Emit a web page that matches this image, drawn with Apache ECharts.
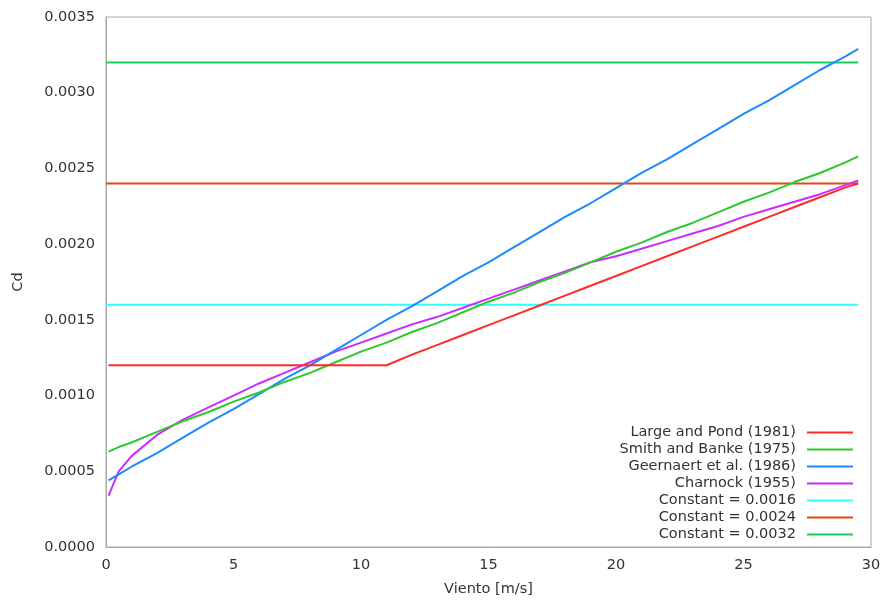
<!DOCTYPE html>
<html>
<head>
<meta charset="utf-8">
<script src="https://cdn.jsdelivr.net/npm/echarts@6/dist/echarts.min.js"></script>
<style>
html,body{margin:0;padding:0;background:#fff;}
#chart{width:885px;height:603px;}
</style>
</head>
<body>
<div id="chart"></div>
<script>
// Wind speed (m/s) sample points
var windSpeed = [0.1, 0.5, 1, 2, 3, 4, 5, 6, 7, 8, 9, 10, 11, 12, 13, 14, 15, 16, 17, 18, 19, 20, 21, 22, 23, 24, 25, 26, 27, 28, 29, 29.5];

var largePond = [0.00120, 0.00120, 0.00120, 0.00120, 0.00120, 0.00120, 0.00120, 0.00120, 0.00120, 0.00120, 0.00120, 0.00120, 0.00120,
  0.00127, 0.001335, 0.00140, 0.001465, 0.00153, 0.001595, 0.00166, 0.001725, 0.00179, 0.001855, 0.00192, 0.001985, 0.00205, 0.002115, 0.00218, 0.002245, 0.00231, 0.002375, 0.00240];

var smithBanke = [0.00063, 0.00066, 0.00069, 0.00076, 0.00083, 0.00089, 0.00096, 0.00102, 0.00109, 0.00115, 0.00122, 0.00129, 0.00135,
  0.00142, 0.00148, 0.00155, 0.00162, 0.00168, 0.00175, 0.00181, 0.00188, 0.00195, 0.00201, 0.00208, 0.00214, 0.00221, 0.00228, 0.00234, 0.00241, 0.00247, 0.00254, 0.00258];

var geernaert = [0.00044, 0.00048, 0.00053, 0.00062, 0.00072, 0.00082, 0.00091, 0.00101, 0.00111, 0.00120, 0.00130, 0.00140, 0.00150,
  0.00159, 0.00169, 0.00179, 0.00188, 0.00198, 0.00208, 0.00218, 0.00227, 0.00237, 0.00247, 0.00256, 0.00266, 0.00276, 0.00286, 0.00295, 0.00305, 0.00315, 0.00324, 0.00329];

var charnock = [0.00034, 0.00050, 0.00060, 0.00074, 0.00084, 0.00092, 0.00100, 0.00108, 0.00115, 0.00122, 0.00129, 0.00135, 0.00141,
  0.00147, 0.00152, 0.00158, 0.00164, 0.00170, 0.00176, 0.00182, 0.00188, 0.00192, 0.00197, 0.00202, 0.00207, 0.00212, 0.00218, 0.00223, 0.00228, 0.00233, 0.00239, 0.00242];

var constantValues = [0.0016, 0.0024, 0.0032];
var constantRange = [0, 29.5];

var seriesNames = ['Large and Pond (1981)', 'Smith and Banke (1975)', 'Geernaert et al. (1986)', 'Charnock (1955)',
  'Constant = 0.0016', 'Constant = 0.0024', 'Constant = 0.0032'];
var seriesColors = ['#ff2a2a', '#2ec82e', '#1e88ff', '#cc2bff', '#33ffff', '#dd4a12', '#1ecc5c'];

var xTicks = [0, 5, 10, 15, 20, 25, 30];
var yMax = 0.0035, yStep = 0.0005;

function pairs(xs, ys) { return xs.map(function (x, i) { return [x, ys[i]]; }); }

var curves = [largePond, smithBanke, geernaert, charnock];
var series = [];
curves.forEach(function (arr, i) {
  series.push({ name: seriesNames[i], type: 'line', data: pairs(windSpeed, arr) });
});
constantValues.forEach(function (v, j) {
  series.push({ name: seriesNames[4 + j], type: 'line', data: constantRange.map(function (x) { return [x, v]; }) });
});
series.forEach(function (s, i) {
  s.symbol = 'none';
  s.showSymbol = false;
  s.color = seriesColors[i];
  s.lineStyle = { width: 2, color: seriesColors[i] };
  s.z = 2 + (series.length - i);
});

var font = 'DejaVu Sans';
var fs = 14.5;
var chart = echarts.init(document.getElementById('chart'), null, { renderer: 'canvas' });
chart.setOption({
  animation: false,
  backgroundColor: '#ffffff',
  grid: { left: 106, right: 14, top: 17, bottom: 56, show: true, borderColor: '#a8a8a8', borderWidth: 1, containLabel: false },
  xAxis: {
    type: 'value', min: xTicks[0], max: xTicks[xTicks.length - 1], interval: 5,
    name: 'Viento [m/s]', nameLocation: 'middle', nameGap: 35,
    nameTextStyle: { fontFamily: font, fontSize: fs, color: '#333' },
    axisLine: { show: true, lineStyle: { color: '#a8a8a8', width: 1 } },
    axisTick: { show: false },
    splitLine: { show: false },
    axisLabel: { fontFamily: font, fontSize: fs, color: '#333', margin: 11 }
  },
  yAxis: {
    type: 'value', min: 0, max: yMax, interval: yStep,
    name: 'Cd', nameLocation: 'middle', nameGap: 80,
    nameTextStyle: { fontFamily: font, fontSize: fs, color: '#333' },
    axisLine: { show: true, lineStyle: { color: '#a8a8a8', width: 1 } },
    axisTick: { show: false },
    splitLine: { show: false },
    axisLabel: { fontFamily: font, fontSize: fs, color: '#333', margin: 11,
      formatter: function (v) { return v.toFixed(4); } }
  },
  legend: {
    orient: 'vertical', right: 32, bottom: 60, align: 'right', padding: 0,
    itemGap: 0, itemWidth: 46, itemHeight: 2, icon: 'rect',
    data: seriesNames,
    textStyle: { fontFamily: font, fontSize: fs, color: '#333', lineHeight: 17, padding: [0, 6, 0, 0] }
  },
  series: series
});
</script>
</body>
</html>
